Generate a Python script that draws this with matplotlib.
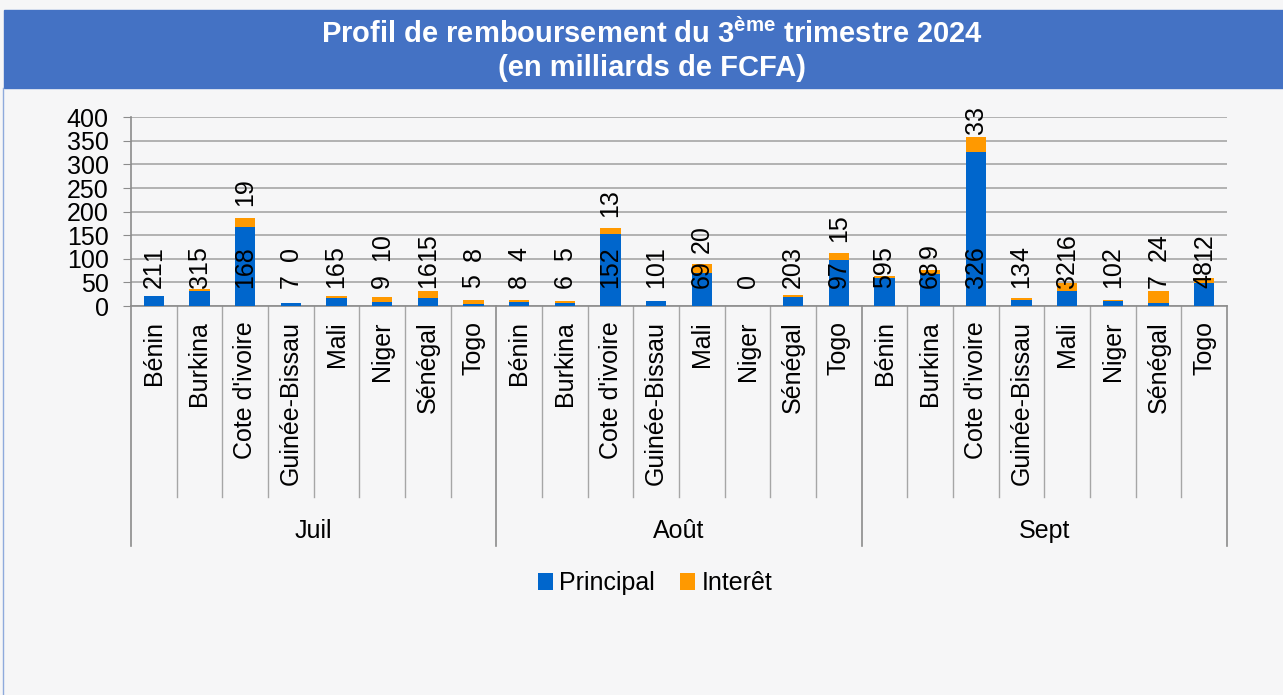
import numpy as np
import matplotlib
matplotlib.use('Agg')
import matplotlib.pyplot as plt
from matplotlib.patches import Rectangle
from matplotlib.lines import Line2D

plt.rcParams['font.family'] = ['Liberation Sans', 'DejaVu Sans']
plt.rcParams['mathtext.fontset'] = 'custom'
plt.rcParams['mathtext.rm'] = 'Liberation Sans'
plt.rcParams['mathtext.bf'] = 'Liberation Sans:bold'

# Data (milliards de FCFA)
months = ['Juil', 'Août', 'Sept']
pays = ['Bénin', 'Burkina', "Cote d'ivoire", 'Guinée-Bissau', 'Mali', 'Niger', 'Sénégal', 'Togo']
principal_juil = [21, 31, 168, 7, 16, 9, 16, 5]
interet_juil = [1, 5, 19, 0, 5, 10, 15, 8]
principal_aout = [8, 6, 152, 10, 69, 0, 20, 97]
interet_aout = [4, 5, 13, 1, 20, None, 3, 15]
principal_sept = [59, 68, 326, 13, 32, 10, 7, 48]
interet_sept = [5, 9, 33, 4, 16, 2, 24, 12]

principal = principal_juil + principal_aout + principal_sept
interet = interet_juil + interet_aout + interet_sept
labels = pays * len(months)

c_princ = '#0066CC'
c_int = '#FF9900'
fs = 18

W, H = 1283, 695
fig = plt.figure(figsize=(W / 100, H / 100), dpi=100)
fig.patch.set_facecolor('#F6F6F7')

# title band
fig.patches.append(Rectangle((4 / W, 1 - 88 / H), 1 - 4 / W, 78 / H,
                             transform=fig.transFigure, color='#4472C4', zorder=0))
fig.add_artist(Line2D([3 / W, 3 / W], [0, 1 - 88 / H], color='#8FAADC', lw=1))
fig.text(0.508, 1 - 34 / H, r"Profil de remboursement du 3$^{\mathbf{ème}}$ trimestre 2024",
         color='white', fontsize=21, fontweight='bold', ha='center', va='center')
fig.text(0.508, 1 - 68 / H, "(en milliards de FCFA)",
         color='white', fontsize=21, fontweight='bold', ha='center', va='center')

ax = fig.add_axes([131 / W, 1 - 306 / H, 1096 / W, 188.7 / H])
ax.set_facecolor('none')

x = np.arange(len(labels))
p = np.array(principal, dtype=float)
i_vals = np.array([v if v is not None else 0 for v in interet], dtype=float)
ax.bar(x, p, width=0.44, color=c_princ, zorder=3, label='Principal')
ax.bar(x, i_vals, width=0.44, bottom=p, color=c_int, zorder=3, label='Interêt')

ax.set_xlim(-0.5, len(labels) - 0.5)
ax.set_ylim(0, 400)
ax.set_yticks(np.arange(0, 401, 50))
ax.tick_params(axis='y', labelsize=fs, length=6, color='#8C8C8C', pad=10)
ax.yaxis.grid(True, color='#A6A6A6', lw=1.2, zorder=0)
for s in ['top', 'right']:
    ax.spines[s].set_visible(False)
for s in ['left', 'bottom']:
    ax.spines[s].set_color('#8C8C8C')
    ax.spines[s].set_linewidth(1.2)

ax.set_xticks(x)
ax.set_xticklabels(labels, rotation=90, fontsize=fs, va='top')
ax.tick_params(axis='x', length=0, pad=11)

# data labels
for xi, pv, iv in zip(x, principal, interet):
    ax.text(xi, 38, str(pv), rotation=90, ha='center', va='bottom', fontsize=fs, zorder=5)
    if iv is not None:
        y_i = min(max(pv + iv + 24, 95), 365)
        ax.text(xi, y_i, str(iv), rotation=90, ha='center', va='bottom', fontsize=fs, zorder=5)

# category separators and month groups
trans = ax.get_xaxis_transform()
n = len(pays)
for b in range(len(labels) + 1):
    if b % n == 0:
        ax.plot([b - 0.5, b - 0.5], [0, -1.272], transform=trans, color='#8C8C8C',
                lw=1.2, clip_on=False)
    else:
        ax.plot([b - 0.5, b - 0.5], [0, -1.012], transform=trans, color='#A6A6A6',
                lw=1.0, clip_on=False)
for k, m in enumerate(months):
    ax.text(k * n + (n - 1) / 2, -1.19, m, transform=trans, ha='center', va='center',
            fontsize=fs)

fig.legend(loc='center', bbox_to_anchor=(655 / W, 1 - 583 / H), ncol=2, frameon=False,
           fontsize=fs, handlelength=0.6, handleheight=0.7, handletextpad=0.25,
           columnspacing=1.0)

fig.savefig('out.png', dpi=100, facecolor=fig.get_facecolor())
